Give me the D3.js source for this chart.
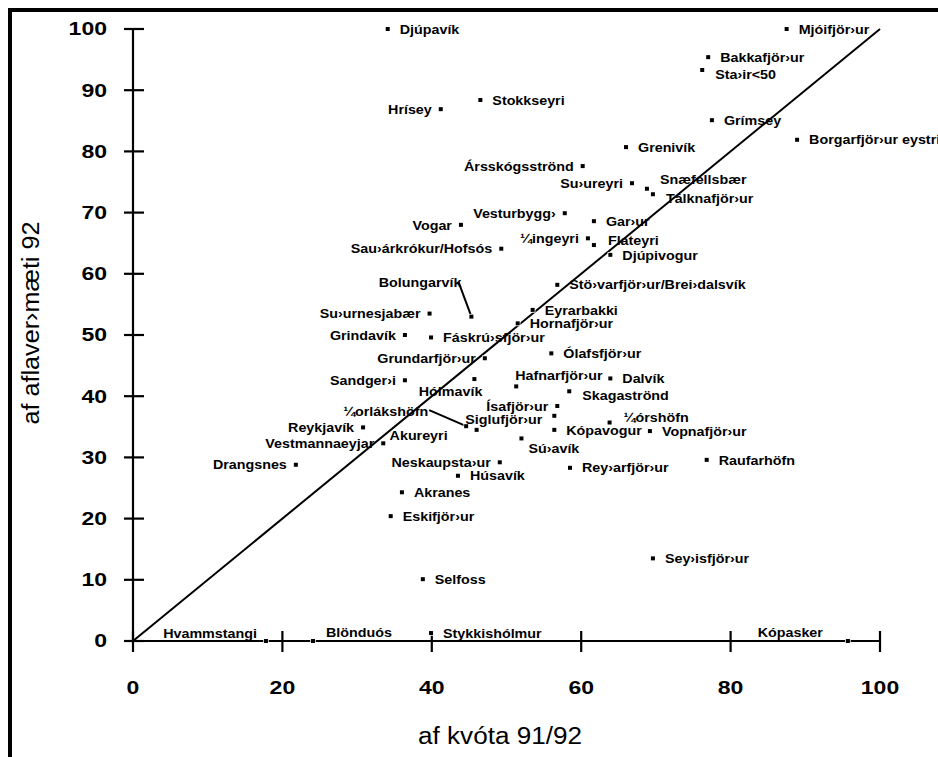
<!DOCTYPE html>
<html>
<head>
<meta charset="utf-8">
<script src="https://cdn.jsdelivr.net/npm/d3@7/dist/d3.min.js"></script>
<style>
  html, body { margin: 0; padding: 0; background: #fff; }
  svg { display: block; }
</style>
</head>
<body>
<svg id="chart" width="938" height="757"></svg>
<script>
// ---- data ----
const names = [
  "Djúpavík","Mjóifjör›ur","Bakkafjör›ur","Sta›ir<50","Stokkseyri","Hrísey","Grímsey",
  "Borgarfjör›ur eystri","Grenivík","Ársskógsströnd","Su›ureyri","Snæfellsbær","Tálknafjör›ur",
  "Vesturbygg›","Gar›ur","¼ingeyri","Flateyri","Djúpivogur","Vogar","Sau›árkrókur/Hofsós",
  "Stö›varfjör›ur/Brei›dalsvík","Bolungarvík","Su›urnesjabær","Eyrarbakki","Hornafjör›ur",
  "Grindavík","Fáskrú›sfjör›ur","Grundarfjör›ur","Ólafsfjör›ur","Sandger›i","Hólmavík",
  "Hafnarfjör›ur","Dalvík","Skagaströnd","¼orlákshöfn","Ísafjör›ur","Siglufjör›ur","Akureyri",
  "Reykjavík","Vestmannaeyjar","Drangsnes","Sú›avík","Kópavogur","¼órshöfn","Vopnafjör›ur",
  "Raufarhöfn","Neskaupsta›ur","Húsavík","Rey›arfjör›ur","Akranes","Eskifjör›ur","Selfoss",
  "Sey›isfjör›ur","Hvammstangi","Blönduós","Stykkishólmur","Kópasker"
];
const kvota = [
  34.1, 87.5, 77.0, 76.2, 46.5, 41.2, 77.5,
  88.9, 66.0, 60.2, 66.8, 68.8, 69.6,
  57.8, 61.7, 60.9, 61.7, 63.9, 43.9, 49.3,
  56.8, 45.3, 39.7, 53.5, 51.5,
  36.4, 39.9, 47.1, 56.0, 36.4, 45.7,
  51.3, 63.9, 58.4, 44.6, 56.8, 56.4, 46.0,
  30.8, 33.5, 21.8, 52.0, 56.4, 63.8, 69.2,
  76.8, 49.1, 43.5, 58.5, 36.0, 34.5, 38.8,
  69.6, 17.8, 24.1, 39.9, 95.7
];
const aflaverdmaeti = [
  100, 100, 95.4, 93.3, 88.4, 86.9, 85.1,
  81.9, 80.7, 77.6, 74.8, 73.9, 73.0,
  69.9, 68.6, 65.8, 64.7, 63.1, 68.0, 64.1,
  58.2, 53.0, 53.5, 54.1, 51.9,
  50.0, 49.6, 46.2, 47.0, 42.6, 42.8,
  41.6, 42.9, 40.8, 35.1, 38.4, 36.8, 34.5,
  34.9, 32.3, 28.8, 33.1, 34.5, 35.7, 34.3,
  29.6, 29.2, 27.0, 28.3, 24.3, 20.4, 10.1,
  13.5, 0, 0, 1.3, 0
];
// label side codes (see placement table in drawing code)
const labelSide = [
  "r","r","r","rd","r","l","r",
  "r","r","l","l","tr","rd",
  "l","r","l","ru","r","l","l",
  "r","lu","l","r","r",
  "l","r","l","r","l","bl",
  "t","r","rd","ll","l","ld","l2",
  "l","l","l","br","r","ru","r",
  "r","l","r","r","r","r","r",
  "r","tl","tr","r","tl2"
];
const xTicks = [0, 20, 40, 60, 80, 100];
const yTicks = [0, 10, 20, 30, 40, 50, 60, 70, 80, 90, 100];
const xTitle = "af kvóta 91/92";
const yTitle = "af aflaver›mæti 92";

// ---- drawing ----
const svg = d3.select("#chart");
const x = d3.scaleLinear().domain([0, 100]).range([133, 880]);
const y = d3.scaleLinear().domain([0, 100]).range([641, 29]);
const FONT = "'Liberation Sans', Arial, Helvetica, sans-serif";

// frame
svg.append("path").attr("d", "M10,757 V10 H938")
  .attr("fill", "none").attr("stroke", "#000").attr("stroke-width", 4);

// axes lines
svg.append("line").attr("x1", x(0)).attr("x2", x(0)).attr("y1", y(100)).attr("y2", y(0))
  .attr("stroke", "#000").attr("stroke-width", 2.2);
svg.append("line").attr("x1", x(0)).attr("x2", x(100)).attr("y1", y(0)).attr("y2", y(0))
  .attr("stroke", "#000").attr("stroke-width", 2.2);

// y ticks (crossing)
svg.append("g").selectAll("line").data(yTicks).join("line")
  .attr("x1", x(0) - 9).attr("x2", x(0) + 11)
  .attr("y1", d => y(d)).attr("y2", d => y(d))
  .attr("stroke", "#000").attr("stroke-width", 2.2);
svg.append("g").selectAll("text").data(yTicks).join("text")
  .attr("x", 107).attr("y", d => y(d)).attr("dy", "0.36em")
  .attr("text-anchor", "end")
  .attr("font-family", FONT).attr("font-weight", "bold").attr("font-size", 18)
  .attr("textLength", d => String(d).length * 12.8).attr("lengthAdjust", "spacingAndGlyphs")
  .text(d => d);

// x ticks (crossing)
svg.append("g").selectAll("line").data(xTicks).join("line")
  .attr("x1", d => x(d)).attr("x2", d => x(d))
  .attr("y1", y(0) - 10).attr("y2", y(0) + 11)
  .attr("stroke", "#000").attr("stroke-width", 2.2);
svg.append("g").selectAll("text").data(xTicks).join("text")
  .attr("x", d => x(d)).attr("y", 688).attr("dy", "0.36em")
  .attr("text-anchor", "middle")
  .attr("font-family", FONT).attr("font-weight", "bold").attr("font-size", 18)
  .attr("textLength", d => String(d).length * 12.8).attr("lengthAdjust", "spacingAndGlyphs")
  .text(d => d);

// axis titles
svg.append("text").attr("x", 500).attr("y", 744).attr("text-anchor", "middle")
  .attr("font-family", FONT).attr("font-size", 23)
  .attr("textLength", 164).attr("lengthAdjust", "spacingAndGlyphs").text(xTitle);
svg.append("text").attr("transform", "translate(39,323) rotate(-90)")
  .attr("text-anchor", "middle")
  .attr("font-family", FONT).attr("font-size", 23)
  .attr("textLength", 203).attr("lengthAdjust", "spacingAndGlyphs").text(yTitle);

// diagonal reference line
svg.append("line").attr("x1", x(0)).attr("y1", y(0)).attr("x2", x(100)).attr("y2", y(100))
  .attr("stroke", "#000").attr("stroke-width", 2);

const data = names.map((n, i) => ({ name: n, kx: kvota[i], ay: aflaverdmaeti[i], side: labelSide[i] }));

const place = {
  r:   { dx: 12,  dy: 0,   a: "start" },
  rd:  { dx: 13,  dy: 4,   a: "start" },
  ru:  { dx: 14,  dy: -5,  a: "start" },
  l:   { dx: -9,  dy: 0,   a: "end" },
  ld:  { dx: -12, dy: 4,   a: "end" },
  l2:  { dx: -29, dy: 5,   a: "end" },
  tr:  { dx: 13,  dy: -9,  a: "start" },
  tl:  { dx: -9,  dy: -8,  a: "end" },
  tl2: { dx: -25, dy: -9,  a: "end" },
  t:   { dx: -1,  dy: -11, a: "start" },
  br:  { dx: 7,   dy: 10,  a: "start" },
  bl:  { dx: 8,   dy: 12,  a: "end" },
  lu:  { dx: -10, dy: -34, a: "end", lead: [-13, -35] },
  ll:  { dx: -38, dy: -15, a: "end", lead: [-37, -16] }
};

// leader lines
svg.append("g").selectAll("line").data(data.filter(d => place[d.side].lead)).join("line")
  .attr("x1", d => x(d.kx) + place[d.side].lead[0])
  .attr("y1", d => y(d.ay) + place[d.side].lead[1])
  .attr("x2", d => x(d.kx)).attr("y2", d => y(d.ay))
  .attr("stroke", "#000").attr("stroke-width", 2);

// markers
svg.append("g").selectAll("rect").data(data).join("rect")
  .attr("x", d => x(d.kx) - 2).attr("y", d => y(d.ay) - 2)
  .attr("width", 4).attr("height", 4)
  .attr("fill", "#000").attr("stroke", "#fff").attr("stroke-width", 1.5)
  .attr("paint-order", "stroke");

// labels (glyphs slightly widened like the reference)
const labels = svg.append("g").selectAll("text").data(data).join("text")
  .attr("x", d => x(d.kx) + place[d.side].dx)
  .attr("y", d => y(d.ay) + place[d.side].dy)
  .attr("dy", "0.36em")
  .attr("text-anchor", d => place[d.side].a)
  .attr("font-family", FONT).attr("font-weight", "bold").attr("font-size", 13)
  .text(d => d.name);
labels.each(function() {
  const w = this.getComputedTextLength();
  d3.select(this).attr("textLength", (w * 1.1).toFixed(1)).attr("lengthAdjust", "spacingAndGlyphs");
});
</script>
</body>
</html>
